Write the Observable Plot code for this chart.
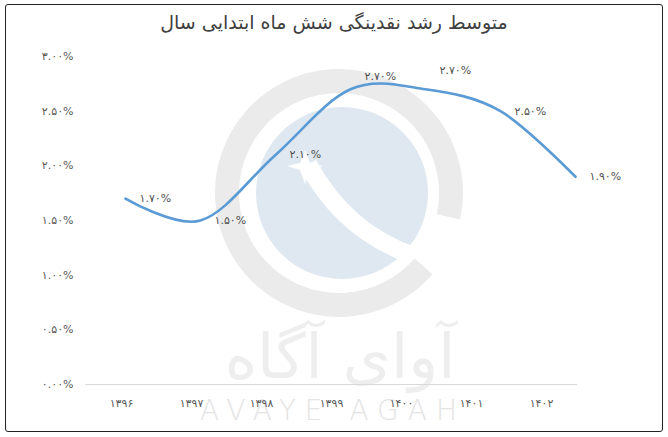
<!DOCTYPE html>
<html>
<head>
<meta charset="utf-8">
<script src="https://cdn.jsdelivr.net/npm/d3@7"></script>
<script src="https://cdn.jsdelivr.net/npm/@observablehq/plot@0.6"></script>
<style>
  html, body { margin: 0; padding: 0; background: #fff; }
  #wrap { position: relative; width: 668px; height: 437px; overflow: hidden; font-family: "DejaVu Sans", sans-serif; }
  #frame { position: absolute; left: 5px; top: 4px; width: 656px; height: 426px; border: 1.5px solid #222; border-radius: 3px; }
  #title { position: absolute; left: 0; top: 8px; width: 668px; text-align: center; font-size: 19px; line-height: 28px; color: #404040; direction: rtl; }
  .layer { position: absolute; left: 0; top: 0; }
</style>
</head>
<body>
<div id="wrap">
  <svg class="layer" width="668" height="437" id="wm">
    <circle cx="339" cy="193" r="112" fill="none" stroke="#ebebeb" stroke-width="24"
      stroke-dasharray="647 57" transform="rotate(41 339 193)"/>
    <circle cx="342" cy="193" r="86" fill="#dfe8f1"/>
    <path d="M300 168 Q 335 235 405 262 L 418 248 Q 352 226 316 160 Z" fill="#ffffff"/>
    <path d="M305 150 L 310 163 L 323 166 L 310 170 L 305 184 L 300 170 L 287 166 L 300 163 Z" fill="#ffffff"/>
    <text x="340" y="378" text-anchor="middle" font-size="62" fill="#eeeeee" font-family="DejaVu Sans" direction="rtl">آوای آگاه</text>
    <text x="333" y="420" text-anchor="middle" font-size="28" letter-spacing="9" fill="#e4e4e4" font-family="DejaVu Sans" font-weight="300">AVAYE AGAH</text>
  </svg>
  <div id="axes" class="layer"></div>
  <div id="lines" class="layer"></div>
  <div id="title">متوسط رشد نقدینگی شش ماه ابتدایی سال</div>
  <div id="frame"></div>
</div>
<script>
const years = ["1396", "1397", "1398", "1399", "1400", "1401", "1402"];
const values = [1.70, 1.50, 2.10, 2.70, 2.70, 2.50, 1.90];
const yTicks = [0, 0.5, 1, 1.5, 2, 2.5, 3];

const fa = s => String(s).replace(/\d/g, d => "۰۱۲۳۴۵۶۷۸۹"[+d]);
const pct = v => fa(v.toFixed(2)) + "%";
const data = years.map((year, i) => ({year, value: values[i], i}));

const axes = Plot.plot({
  width: 668, height: 437,
  marginLeft: 85, marginRight: 91, marginTop: 56, marginBottom: 53,
  style: {background: "transparent", fontFamily: "DejaVu Sans", fontSize: "11px", color: "#595959"},
  x: {type: "band", domain: years, padding: 0, label: null},
  y: {domain: [0, 3], label: null},
  marks: [
    Plot.ruleY([0], {stroke: "#d9d9d9", strokeWidth: 1.2}),
    Plot.axisY({ticks: yTicks, tickSize: 0, tickPadding: 12, tickFormat: pct, label: null}),
    Plot.axisX({tickSize: 0, tickPadding: 15, tickFormat: fa, label: null})
  ]
});
document.getElementById("axes").appendChild(axes);

const lines = Plot.plot({
  width: 668, height: 437,
  style: {background: "transparent", fontFamily: "DejaVu Sans", fontSize: "11px"},
  x: {type: "point", domain: years, range: [123, 577], padding: 0, axis: null},
  y: {domain: [0, 3], range: [384, 56], axis: null},
  marks: [
    Plot.line(data, {x: "year", y: "value", curve: "cardinal", stroke: "#5b9bd5", strokeWidth: 2.6}),
    Plot.text(data.filter(d => d.i !== 3 && d.i !== 4), {x: "year", y: "value", text: d => pct(d.value), dx: 14, textAnchor: "start", fill: "#505050"}),
    Plot.text(data.filter(d => d.i === 3), {x: "year", y: "value", text: d => pct(d.value), dx: 14, dy: -13, textAnchor: "start", fill: "#505050"}),
    Plot.text(data.filter(d => d.i === 4), {x: "year", y: "value", text: d => pct(d.value), dx: 14, dy: -19, textAnchor: "start", fill: "#505050"})
  ]
});
document.getElementById("lines").appendChild(lines);
</script>
</body>
</html>
